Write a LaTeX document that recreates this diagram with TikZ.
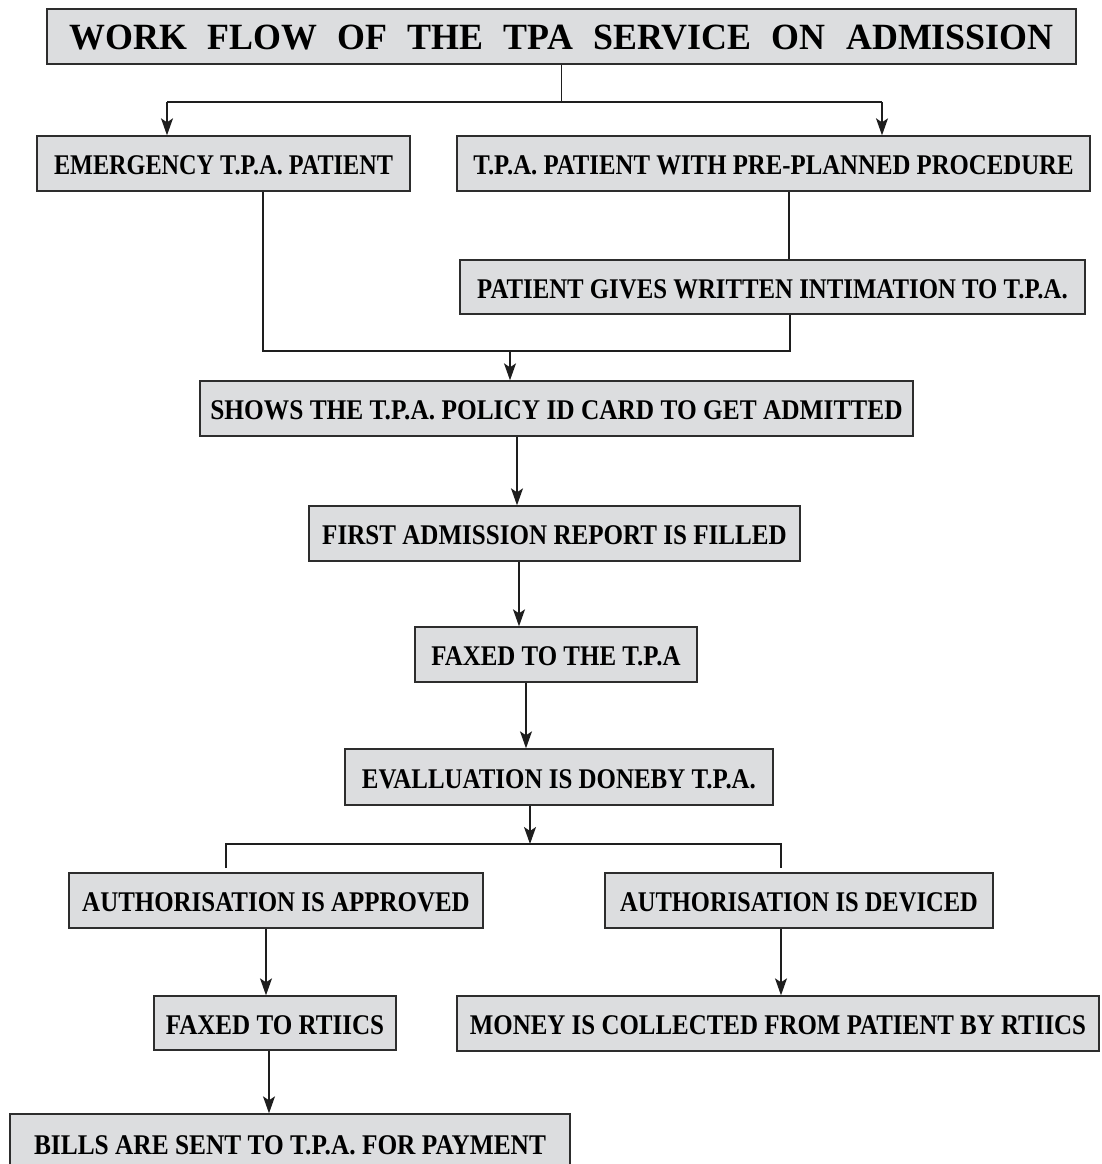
\documentclass[tikz,border=0pt]{standalone}
\usepackage{fontspec}
\setmainfont{Liberation Serif}
\usetikzlibrary{arrows.meta}
\definecolor{boxfill}{RGB}{220,221,223}
\definecolor{boxline}{RGB}{45,45,45}
\definecolor{wire}{RGB}{30,30,30}
% horizontally condensed label text
\newcommand{\narrow}[2][0.875]{\scalebox{#1}[1]{#2}}
\begin{document}
\begin{tikzpicture}[x=1pt,y=-1pt,
  stepbox/.style={draw=boxline,line width=1.4pt,fill=boxfill,rectangle,inner sep=0pt,
    font=\fontsize{28.5}{32}\selectfont\bfseries,text=black,text height=22pt,text depth=0pt},
  titlebox/.style={stepbox,font=\fontsize{37}{40}\selectfont\bfseries,text height=26pt},
  wireline/.style={draw=wire,line width=1.3pt},
  arr/.style={wireline,-{Stealth[length=17pt,width=12pt,inset=4pt]}}]
\useasboundingbox (0,0) rectangle (1101,1164);
\clip (0,0) rectangle (1101,1164);

% boxes
\node[titlebox,minimum width=1029pt,minimum height=55pt] (title) at (561.5,36.5)
  {\narrow[0.97]{\spaceskip=21pt WORK FLOW OF THE TPA SERVICE ON ADMISSION}};
\node[stepbox,minimum width=373pt,minimum height=55pt] (emerg) at (223.5,163.5)
  {\narrow[0.85]{EMERGENCY T.P.A. PATIENT}};
\node[stepbox,minimum width=633pt,minimum height=55pt] (pre) at (773.5,163.5)
  {\narrow[0.87]{T.P.A. PATIENT WITH PRE-PLANNED PROCEDURE}};
\node[stepbox,minimum width=625pt,minimum height=54pt] (gives) at (772.5,287)
  {\narrow[0.87]{PATIENT GIVES WRITTEN INTIMATION TO T.P.A.}};
\node[stepbox,minimum width=713pt,minimum height=55pt] (shows) at (556.5,408.5)
  {\narrow[0.89]{SHOWS THE T.P.A. POLICY ID CARD TO GET ADMITTED}};
\node[stepbox,minimum width=491pt,minimum height=55pt] (first) at (554.5,533.5)
  {\narrow[0.88]{FIRST ADMISSION REPORT IS FILLED}};
\node[stepbox,minimum width=282pt,minimum height=55pt] (faxtpa) at (556,654.5)
  {\narrow{FAXED TO THE T.P.A}};
\node[stepbox,minimum width=428pt,minimum height=56pt] (eval) at (559,777)
  {\narrow{EVALLUATION IS DONEBY T.P.A.}};
\node[stepbox,minimum width=414pt,minimum height=55pt] (appr) at (276,900.5)
  {\narrow{AUTHORISATION IS APPROVED}};
\node[stepbox,minimum width=388pt,minimum height=55pt] (devi) at (799,900.5)
  {\narrow[0.86]{AUTHORISATION IS DEVICED}};
\node[stepbox,minimum width=242pt,minimum height=54pt] (faxr) at (275,1023)
  {\narrow[0.88]{FAXED TO RTIICS}};
\node[stepbox,minimum width=642pt,minimum height=55pt] (money) at (778,1023.5)
  {\narrow{MONEY IS COLLECTED FROM PATIENT BY RTIICS}};
\node[stepbox,minimum width=560pt,minimum height=58pt] (bills) at (290,1143)
  {\narrow[0.89]{BILLS ARE SENT TO T.P.A. FOR PAYMENT}};

% split below the title
\coordinate (sL) at (167,102);
\coordinate (sR) at (882,102);
\draw[wireline] (title.south) -- (title.south |- sL);
\draw[wireline] (sL) -- (sR);
\draw[arr] (sL) -- (sL |- emerg.north);
\draw[arr] (sR) -- (sR |- pre.north);

% pre-planned branch
\draw[wireline] (789,0 |- pre.south) -- (789,0 |- gives.north);

% merge into admission
\coordinate (mL) at (263,351);
\coordinate (mR) at (790,351);
\coordinate (mC) at (510,351);
\draw[wireline] (mL |- emerg.south) -- (mL) -- (mR) -- (mR |- gives.south);
\draw[arr] (mC) -- (mC |- shows.north);

% main chain
\draw[arr] (517,0 |- shows.south) -- (517,0 |- first.north);
\draw[arr] (519,0 |- first.south) -- (519,0 |- faxtpa.north);
\draw[arr] (526,0 |- faxtpa.south) -- (526,0 |- eval.north);

% decision split
\coordinate (dL) at (226,844);
\coordinate (dR) at (781,844);
\coordinate (dC) at (530,844);
\draw[arr] (dC |- eval.south) -- (dC);
\draw[wireline] (226,868) -- (dL) -- (dR) -- (781,868);

% outcomes
\draw[arr] (266,0 |- appr.south) -- (266,0 |- faxr.north);
\draw[arr] (781,0 |- devi.south) -- (781,0 |- money.north);
\draw[arr] (269,0 |- faxr.south) -- (269,0 |- bills.north);
\end{tikzpicture}
\end{document}
